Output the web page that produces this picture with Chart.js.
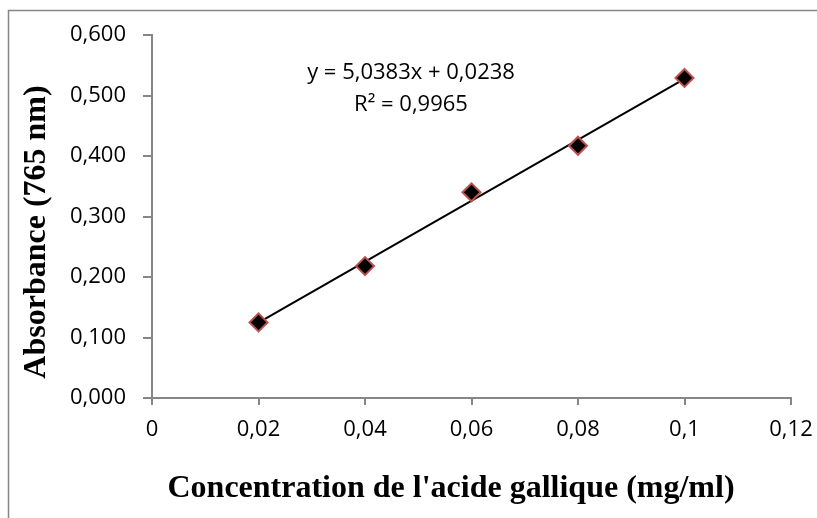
<!DOCTYPE html>
<html>
<head>
<meta charset="utf-8">
<script src="https://cdn.jsdelivr.net/npm/chart.js@4.4.1/dist/chart.umd.min.js"></script>
<style>
  body { margin: 0; background: #fff; }
</style>
</head>
<body>
<canvas id="myChart" width="817" height="518"></canvas>
<script>
// Gallic acid calibration data
var concentrations = [0.02, 0.04, 0.06, 0.08, 0.1];
var absorbances = [0.125, 0.218, 0.340, 0.417, 0.529];

// Trendline as printed on the chart
var trendSlope = 5.0383;
var trendIntercept = 0.0238;
var trendLabel = 'y = 5,0383x + 0,0238';
var r2Label = 'R² = 0,9965';

var xTickLabels = ['0', '0,02', '0,04', '0,06', '0,08', '0,1', '0,12'];
var yTickLabels = ['0,000', '0,100', '0,200', '0,300', '0,400', '0,500', '0,600'];

var xTitle = "Concentration de l'acide gallique (mg/ml)";
var yTitle = 'Absorbance (765 nm)';

var axisColor = '#868686';

var points = concentrations.map(function (x, i) {
  return { x: x, y: absorbances[i] };
});

var xFirst = concentrations[0];
var xLast = concentrations[concentrations.length - 1];
var trendPoints = [
  { x: xFirst, y: trendSlope * xFirst + trendIntercept },
  { x: xLast, y: trendSlope * xLast + trendIntercept },
];

// Frame, equation and axis titles drawn on top of the chart
var extras = {
  id: 'extras',
  afterDraw: function (chart) {
    var ctx = chart.ctx;
    ctx.save();

    ctx.strokeStyle = axisColor;
    ctx.lineWidth = 1.5;
    ctx.strokeRect(8.5, 10.5, 1000, 1000);

    ctx.fillStyle = '#000';
    ctx.textAlign = 'center';
    ctx.textBaseline = 'alphabetic';
    ctx.font = '22px "Open Sans"';
    ctx.fillText(trendLabel, 411, 79);
    ctx.fillText(r2Label, 411, 111);

    ctx.font = 'bold 32px "Liberation Serif"';
    ctx.fillText(xTitle, 451, 497);

    ctx.translate(45, 232);
    ctx.rotate(-Math.PI / 2);
    ctx.fillText(yTitle, 0, 0);
    ctx.restore();
  },
};

var ctx = document.getElementById('myChart').getContext('2d');

var myChart = new Chart(ctx, {
  type: 'scatter',
  data: {
    datasets: [
      {
        type: 'line',
        label: 'Trend',
        data: trendPoints,
        borderColor: '#000',
        borderWidth: 2,
        pointRadius: 0,
        fill: false,
        order: 2,
      },
      {
        label: 'Absorbance',
        data: points,
        pointStyle: 'rectRot',
        pointRadius: 9,
        pointBackgroundColor: '#000',
        pointBorderColor: '#c0504d',
        pointBorderWidth: 2,
        order: 1,
      },
    ],
  },
  options: {
    responsive: false,
    animation: false,
    layout: {
      padding: { top: 35, right: 26, left: 0, bottom: 0 },
    },
    plugins: {
      legend: { display: false },
      tooltip: { enabled: false },
    },
    scales: {
      x: {
        type: 'linear',
        min: 0,
        max: 0.12,
        afterFit: function (scale) {
          scale.height = 120;
          scale.paddingLeft = 0;
          scale.paddingRight = 0;
        },
        ticks: {
          stepSize: 0.02,
          color: '#000',
          font: { family: 'Open Sans', size: 22 },
          padding: 12,
          maxRotation: 0,
          callback: function (value, index) {
            return xTickLabels[index];
          },
        },
        grid: {
          drawOnChartArea: false,
          drawTicks: true,
          tickLength: 7,
          color: axisColor,
          lineWidth: 2,
        },
        border: { display: true, color: axisColor, width: 2 },
      },
      y: {
        min: 0,
        max: 0.6,
        afterFit: function (scale) {
          scale.width = 152;
          scale.paddingTop = 0;
          scale.paddingBottom = 0;
        },
        ticks: {
          stepSize: 0.1,
          color: '#000',
          font: { family: 'Open Sans', size: 22 },
          padding: 17,
          callback: function (value, index) {
            return yTickLabels[index];
          },
        },
        grid: {
          drawOnChartArea: false,
          drawTicks: true,
          tickLength: 9,
          color: axisColor,
          lineWidth: 2,
        },
        border: { display: true, color: axisColor, width: 2 },
      },
    },
  },
  plugins: [extras],
});
</script>
</body>
</html>
